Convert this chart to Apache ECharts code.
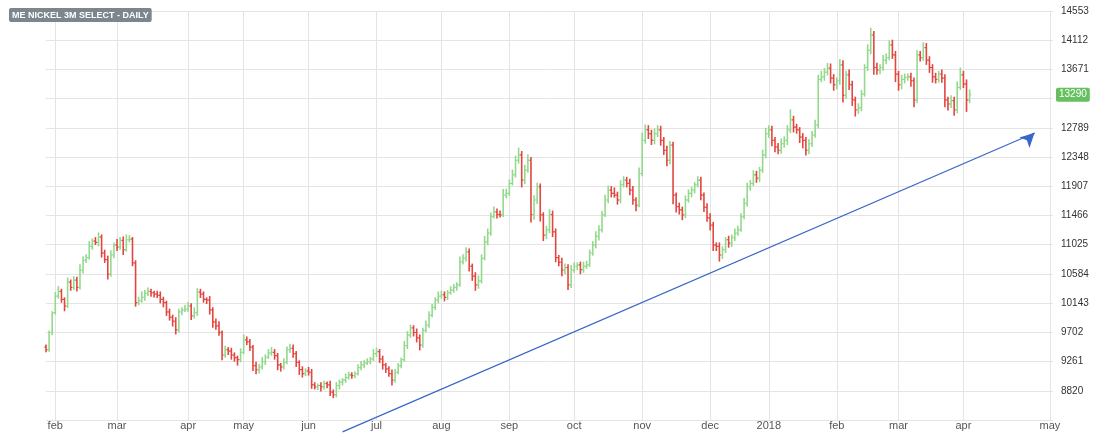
<!DOCTYPE html>
<html><head><meta charset="utf-8">
<script src="https://cdn.jsdelivr.net/npm/echarts@6/dist/echarts.min.js"></script>
<style>html,body{margin:0;padding:0;background:#fff}#c{width:1100px;height:445px}</style>
</head><body><div id="c"></div>
<script>
const title = 'ME NICKEL 3M SELECT - DAILY';
const firstOpen = 9480;
const closes = [
9440,9700,10000,10250,10320,10200,10100,10460,10380,10490,10380,10640,10790,10830,11000,11080,11060,11140,10900,10800,
10580,10870,11020,10990,11090,10950,11100,11110,10750,10150,10180,10230,10290,10320,10300,10280,10260,10200,10150,10010,
9930,9870,9740,10010,10040,10050,10100,9950,10000,10310,10280,10200,10190,10040,9860,9800,9700,9360,9440,9420,
9360,9320,9290,9400,9590,9560,9480,9200,9140,9180,9260,9330,9390,9400,9350,9210,9180,9250,9440,9460,
9380,9250,9140,9080,9120,9100,8910,8880,8900,8880,8930,8910,8800,8760,8900,8950,8980,9020,9060,9050,
9080,9170,9210,9240,9260,9300,9380,9410,9300,9210,9150,9080,8980,9100,9200,9290,9500,9660,9770,9700,
9620,9510,9730,9810,9960,10080,10190,10250,10270,10230,10300,10340,10380,10420,10766,10820,10917,10700,10550,10420,
10480,10820,11067,11200,11450,11520,11480,11475,11775,11800,11950,12080,12300,12380,12000,12150,12300,11480,11700,11900,
11475,11170,11250,11480,11220,10830,10760,10640,10680,10420,10640,10700,10720,10650,10700,10720,10900,11020,11150,11250,
11475,11700,11850,11800,11775,11700,11930,12000,11950,11850,11700,11620,12100,12600,12760,12700,12600,12700,12760,12600,
12450,12300,12530,11775,11600,11550,11475,11700,11800,11850,11930,12000,11775,11590,11430,11320,11020,11000,10870,10950,
11100,11050,11130,11200,11250,11450,11650,11900,11950,12080,12030,12150,12380,12700,12760,12600,12500,12450,12550,12600,
12760,12910,12800,12760,12650,12600,12450,12550,12680,12830,13520,13560,13630,13690,13540,13440,13500,13740,13280,13590,
13440,13210,13060,13090,13300,13700,13960,14190,13700,13660,13700,13810,13850,14040,13890,13600,13440,13520,13550,13560,
13500,13210,13890,13850,14000,13810,13700,13560,13520,13600,13540,13210,13150,13200,13060,13400,13590,13450,13210,13290
];
const wickUp = [
40,30,20,60,80,40,30,70,40,60,50,90,60,50,80,40,60,70,40,50,
60,70,40,90,50,60,80,60,30,40,60,90,50,60,40,30,50,60,40,30,
50,40,60,50,40,70,60,40,80,60,50,40,30,60,40,50,70,30,60,40,
50,40,30,60,80,50,40,30,60,50,70,40,60,80,50,40,30,60,50,70,
60,40,30,50,40,60,50,40,30,50,40,30,60,40,50,40,30,60,50,40,
30,50,60,40,50,30,70,60,40,50,30,40,60,50,40,30,70,60,50,40,
60,50,40,70,60,50,40,70,60,50,40,60,50,40,80,60,70,50,40,60,
80,60,90,70,60,80,50,60,90,70,60,80,70,110,60,80,90,50,70,60,
50,40,60,80,60,50,40,70,60,50,80,60,40,50,70,60,50,60,80,70,
60,80,70,60,90,50,70,60,50,70,60,40,90,120,80,70,60,80,70,60,
50,70,60,50,40,60,50,70,60,50,40,60,50,40,60,70,50,40,60,50,
40,60,50,70,60,50,80,60,50,70,60,50,80,90,70,60,50,60,80,60,
70,160,60,50,40,60,50,70,60,80,70,90,60,80,70,60,50,90,70,60,
80,60,50,70,60,50,90,110,60,70,50,80,60,70,80,60,50,70,60,50,
60,50,70,60,80,70,60,50,60,50,70,60,50,80,60,90,110,60,70,80
];
const wickDown = [
40,30,40,30,40,50,80,30,50,40,60,30,50,40,30,50,40,60,70,50,
80,40,50,60,40,80,30,40,50,60,40,30,50,40,60,50,40,60,70,60,
50,80,70,40,50,30,40,60,40,50,60,50,60,70,90,60,50,80,40,60,
70,60,90,40,30,50,60,80,70,60,40,50,30,40,60,80,70,40,30,50,
60,70,80,60,40,50,60,40,50,70,40,50,60,50,40,60,50,40,30,50,
40,30,40,50,30,40,30,50,60,70,60,50,80,40,30,40,30,50,40,60,
70,80,40,30,40,30,40,50,40,60,40,30,40,50,30,40,50,80,70,90,
60,40,30,50,40,30,60,40,30,50,40,30,40,50,110,60,40,120,80,60,
100,90,60,50,80,70,60,90,60,80,50,40,60,70,50,40,30,40,50,60,
40,30,50,60,40,70,50,40,60,80,70,90,30,40,50,80,70,60,50,80,
70,90,60,140,90,70,80,50,40,60,50,40,80,70,60,80,90,70,100,60,
50,70,60,50,40,30,40,50,60,40,70,60,40,50,60,90,80,60,50,60,
70,50,80,60,90,120,80,60,50,40,50,40,60,50,80,90,70,60,110,50,
80,90,100,60,50,40,50,60,110,70,60,50,60,40,60,120,90,70,60,50,
90,110,50,60,50,70,80,90,60,50,70,110,100,60,90,50,40,60,180,50
];
const yTicks = [8820,9261,9702,10143,10584,11025,11466,11907,12348,12789,13230,13671,14112,14553];
const monthNames = ['jan','feb','mar','apr','may','jun','jul','aug','sep','oct','nov','dec'];
const holidays = ['2017-04-14','2017-04-17','2017-05-01','2017-05-29','2017-08-28','2017-12-25','2017-12-26','2018-01-01','2018-03-30','2018-04-02'];
const lastPrice = 13290;
const trendStart = [96, 8200];
const trendEnd = [320, 12712];

function fmt(d){return d.toISOString().slice(0,10);}
const cats = [];
let d = new Date(Date.UTC(2017,0,27));
while (cats.length < closes.length) {
  const s = fmt(d), wd = d.getUTCDay();
  if (wd !== 0 && wd !== 6 && holidays.indexOf(s) < 0) cats.push(s);
  d.setUTCDate(d.getUTCDate()+1);
}
const endPad = new Date(Date.UTC(2018,4,2));
while (d <= endPad) { cats.push(fmt(d)); d.setUTCDate(d.getUTCDate()+1); }

const ohlc = closes.map((c,i)=>{const o = i===0?firstOpen:closes[i-1];
  return [i,o,c,Math.min(o,c)-wickDown[i],Math.max(o,c)+wickUp[i]];});

function isMonthStart(i){ if(i===0) return false; return cats[i].slice(0,7)!==cats[i-1].slice(0,7); }

const chart = echarts.init(document.getElementById('c'));
chart.setOption({
  animation:false,
  title:{text:title,left:9,top:8,padding:[3,3,2,3],backgroundColor:'#7d868c',borderRadius:2,
    textStyle:{color:'#fff',fontSize:9,fontWeight:'bold',fontFamily:'Liberation Sans'}},
  grid:{left:46,right:47,top:11,bottom:25},
  xAxis:{type:'category',data:cats,boundaryGap:false,
    axisLine:{show:false},axisTick:{show:false},
    axisLabel:{interval:(i)=>isMonthStart(i),margin:0,color:'#555',fontSize:11,fontFamily:'Liberation Sans',
      formatter:(v)=>{const m=+v.slice(5,7)-1; return m===0?v.slice(0,4):monthNames[m];}},
    splitLine:{show:true,interval:(i)=>isMonthStart(i),lineStyle:{color:'#e4e4e4',width:1}}},
  yAxis:{type:'value',position:'right',min:8379,max:14553,interval:441,scale:true,
    axisLine:{show:false},axisTick:{show:false},
    axisLabel:{margin:8,color:'#333',fontSize:10,fontFamily:'Liberation Sans',
      formatter:(v)=>yTicks.indexOf(Math.round(v))>=0?String(Math.round(v)):''},
    splitLine:{lineStyle:{color:'#e4e4e4'}},
    axisPointer:{show:true,value:lastPrice,status:'show',triggerTooltip:false,
      lineStyle:{opacity:0},handle:{show:false},
      label:{show:true,formatter:String(lastPrice),color:'#fff',backgroundColor:'#66c060',margin:3,
        padding:[2,3],borderRadius:2,fontSize:10,fontFamily:'Liberation Sans'}}},
  series:[{
    type:'custom',
    data:ohlc,
    encode:{x:0,y:[1,2,3,4]},
    renderItem:function(params,api){
      const x=api.value(0),o=api.value(1),c=api.value(2),l=api.value(3),h=api.value(4);
      const po=api.coord([x,o]),pc=api.coord([x,c]),pl=api.coord([x,l]),ph=api.coord([x,h]);
      const col = c>o?'#93d98d':(c<o?'#e2463f':'#555');
      const t=1.6;
      return {type:'group',children:[
        {type:'line',shape:{x1:pl[0],y1:pl[1],x2:ph[0],y2:ph[1]},style:{stroke:col,lineWidth:1.6}},
        {type:'line',shape:{x1:po[0]-t,y1:po[1],x2:po[0],y2:po[1]},style:{stroke:col,lineWidth:1.2}},
        {type:'line',shape:{x1:pc[0],y1:pc[1],x2:pc[0]+t,y2:pc[1]},style:{stroke:col,lineWidth:1.2}}
      ]};
    }
  },{
    type:'line',data:[trendStart,trendEnd],clip:false,
    lineStyle:{color:'#3a66c8',width:1.2},symbol:'none',z:5
  },{
    type:'line',data:[trendStart,trendEnd],clip:false,symbol:'none',lineStyle:{opacity:0},z:6,
    markLine:{silent:true,symbol:['none','arrow'],symbolSize:[11,14],animation:false,
      lineStyle:{color:'#3a66c8',width:1.2,type:'solid'},label:{show:false},
      data:[[{coord:[318,12622]},{coord:trendEnd}]]}
  }]
});
</script></body></html>
